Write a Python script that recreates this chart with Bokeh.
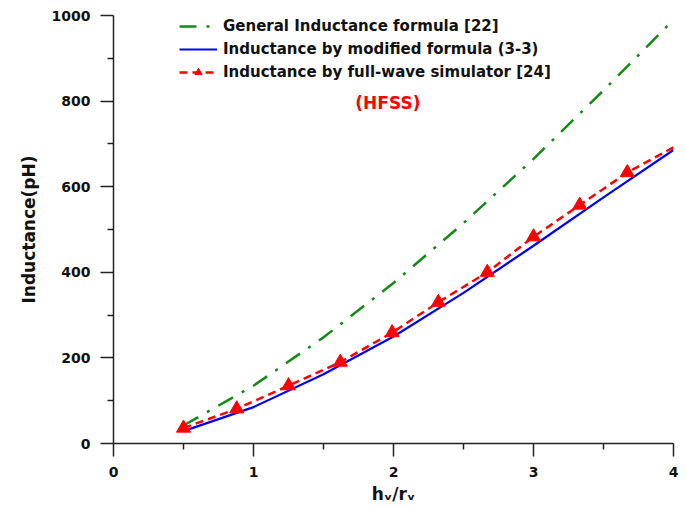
from bokeh.plotting import figure
from bokeh.models import Label, FixedTicker, Legend
from bokeh.embed import file_html
from bokeh.resources import INLINE

# data
x_general = [0.5, 1.0, 1.5, 2.0, 2.5, 3.0, 3.5, 4.0]
l_general = [42, 135, 248, 375, 515, 665, 825, 990]

x_modified = [0.5, 1.0, 1.5, 2.0, 2.5, 3.0, 3.5, 4.0]
l_modified = [29, 85, 162, 250, 352, 462, 575, 686]

x_hfss = [0.5, 0.88, 1.25, 1.62, 1.99, 2.32, 2.67, 3.0, 3.33, 3.67, 4.0]
l_hfss = [36, 81, 135, 190, 259, 330, 400, 483, 557, 633, 692]
n_markers = 10

x_ticks = [0, 1, 2, 3, 4]
y_ticks = [0, 200, 400, 600, 800, 1000]

labels = [
    "General Inductance formula [22]",
    "Inductance by modified formula (3-3)",
    "Inductance by full-wave simulator [24]",
]

FONT = "DejaVu Sans"

p = figure(frame_width=560, frame_height=428, x_range=(0, 4), y_range=(0, 1000),
           output_backend="svg", toolbar_location=None,
           min_border_left=113, min_border_right=6, min_border_top=15, min_border_bottom=62)
p.outline_line_color = None
p.grid.visible = False
p.background_fill_color = "white"

g = p.line(x_general, l_general, line_color="#138a13", line_width=2.5, line_dash="17 10 3 10")
b = p.line(x_modified, l_modified, line_color="#0000ff", line_width=2.2)
r = p.line(x_hfss, l_hfss, line_color="#ff0000", line_width=2.5, line_dash="8 5")
m = p.scatter(x_hfss[:n_markers], l_hfss[:n_markers], marker="triangle", size=14,
              fill_color="#ff0000", line_color="#ff0000")

legend = Legend(items=[(labels[0], [g]), (labels[1], [b]), (labels[2], [r, m])],
                location=(66, 362), padding=2, margin=0, spacing=5,
                glyph_width=38, glyph_height=18, label_height=18, label_standoff=6,
                border_line_color=None, background_fill_alpha=0,
                label_text_font=FONT, label_text_font_style="bold",
                label_text_font_size="15px", label_text_color="#111111")
p.add_layout(legend)

p.add_layout(Label(x=1.96, y=795, text="(HFSS)", text_color="#ff0000",
                   text_font=FONT, text_font_style="bold", text_font_size="17px",
                   text_align="center", text_baseline="middle"))

for ax in (p.xaxis[0], p.yaxis[0]):
    ax.axis_line_color = "#222222"
    ax.axis_line_width = 1.5
    ax.major_tick_line_color = "#222222"
    ax.major_tick_line_width = 1.5
    ax.minor_tick_line_color = "#222222"
    ax.minor_tick_line_width = 1.5
    ax.major_tick_in = 0
    ax.major_tick_out = 13
    ax.minor_tick_in = 0
    ax.minor_tick_out = 6
    ax.major_label_text_font = FONT
    ax.major_label_text_font_style = "bold"
    ax.major_label_text_font_size = "14px"
    ax.major_label_text_color = "#111111"
    ax.axis_label_text_font = FONT
    ax.axis_label_text_font_style = "bold"
    ax.axis_label_text_font_size = "17px"
    ax.axis_label_text_color = "#111111"

p.xaxis.ticker = FixedTicker(ticks=x_ticks, minor_ticks=[0.5, 1.5, 2.5, 3.5])
p.yaxis.ticker = FixedTicker(ticks=y_ticks, minor_ticks=[100, 300, 500, 700, 900])
p.xaxis.major_label_standoff = 10
p.yaxis.major_label_standoff = 10
p.xaxis.axis_label = "hᵥ/rᵥ"
p.yaxis.axis_label = "Inductance(pH)"
p.xaxis.axis_label_standoff = 4
p.yaxis.axis_label_standoff = 10

open("out.html", "w").write(file_html(p, INLINE))
